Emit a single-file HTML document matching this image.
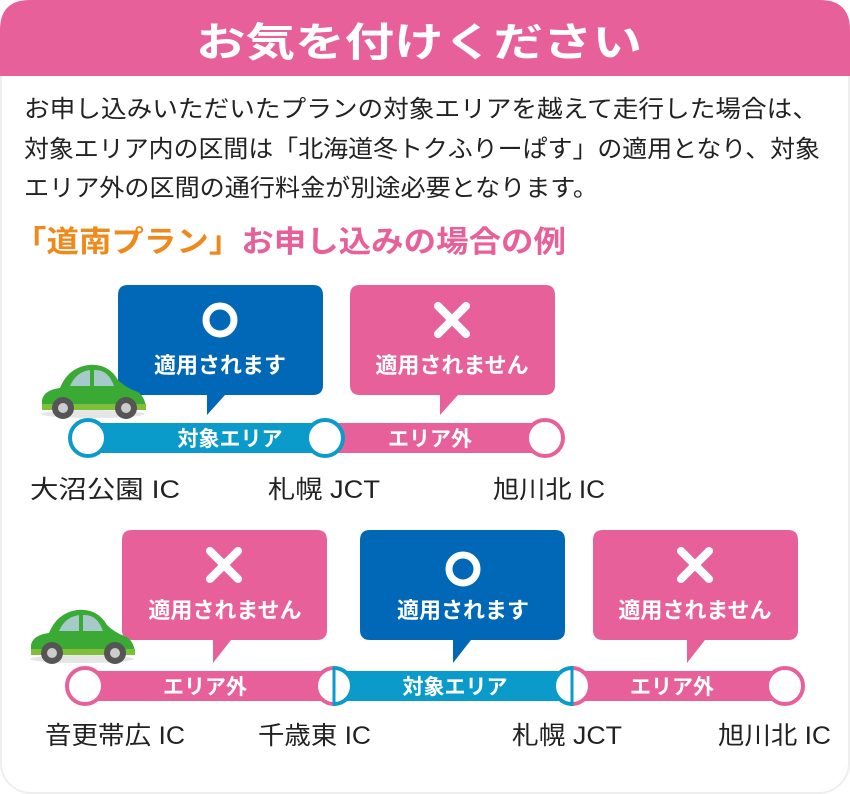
<!DOCTYPE html>
<html><head><meta charset="utf-8"><style>
body{margin:0;background:#fff;}
svg{display:block;}
text{font-family:"Liberation Sans","Noto Sans CJK JP",sans-serif;}
</style></head><body>
<svg width="850" height="794" viewBox="0 0 850 794" xmlns="http://www.w3.org/2000/svg">
<defs>
<g id="car">
  <ellipse cx="55" cy="54" rx="52" ry="4" fill="#ccc" opacity="0.5"/>
  <path d="M4 50 L4 40 Q6 30 22 28 Q30 8 50 5 Q70 3 80 20 Q88 28 100 32 Q108 38 108 50 Z" fill="#3aaa35"/>
  <path d="M32 26 Q38 12 52 10 L52 26 Z" fill="#a6c9c9"/>
  <path d="M56 10 Q70 9 76 26 L56 26 Z" fill="#a6c9c9"/>
  <path d="M4 44 L108 44 L108 50 L4 50 Z" fill="#7fbf3a"/>
  <circle cx="25" cy="48" r="11" fill="#555"/><circle cx="25" cy="48" r="5" fill="#ccc"/>
  <circle cx="88" cy="48" r="11" fill="#555"/><circle cx="88" cy="48" r="5" fill="#ccc"/>
</g>
</defs>
<rect x="1" y="1" width="848" height="792" rx="30" fill="#fff" stroke="#eee" stroke-width="2"/>
<path d="M0 30 Q0 0 30 0 L820 0 Q850 0 850 30 L850 76 L0 76 Z" fill="#e8609a"/>
<text x="196" y="56" font-size="40" font-weight="bold" fill="#fff" textLength="446" lengthAdjust="spacingAndGlyphs">お気を付けください</text>
<g font-size="24" fill="#222">
<text x="24" y="117" textLength="794" lengthAdjust="spacingAndGlyphs">お申し込みいただいたプランの対象エリアを越えて走行した場合は、</text>
<text x="24" y="157" textLength="796" lengthAdjust="spacingAndGlyphs">対象エリア内の区間は「北海道冬トクふりーぱす」の適用となり、対象</text>
<text x="24" y="196" textLength="574" lengthAdjust="spacingAndGlyphs">エリア外の区間の通行料金が別途必要となります。</text>
</g>
<text x="14" y="252" font-size="30" font-weight="bold" textLength="552" lengthAdjust="spacingAndGlyphs"><tspan fill="#ee8a1c">「道南プラン」</tspan><tspan fill="#e8609a">お申し込みの場合の例</tspan></text>

<!-- Row 1 -->
<path d="M128 285 H313 Q323 285 323 295 V385 Q323 395 313 395 H225 L207 415 L207 395 H128 Q118 395 118 385 V295 Q118 285 128 285Z" fill="#0068b7"/>
<circle cx="220" cy="320" r="14" fill="none" stroke="#fff" stroke-width="7"/>
<text x="220" y="373" text-anchor="middle" font-size="22" font-weight="bold" fill="#fff">適用されます</text>
<path d="M360 285 H545 Q555 285 555 295 V385 Q555 395 545 395 H458 L440 415 L440 395 H360 Q350 395 350 385 V295 Q350 285 360 285Z" fill="#e8609a"/>
<path d="M438 306 L466 334 M466 306 L438 334" stroke="#fff" stroke-width="8" stroke-linecap="round"/>
<text x="452" y="373" text-anchor="middle" font-size="22" font-weight="bold" fill="#fff">適用されません</text>
<rect x="88" y="423" width="237" height="30" fill="#0b9bcb"/>
<rect x="325" y="423" width="220" height="30" fill="#e8609a"/>
<circle cx="88" cy="438" r="18" fill="#fff" stroke="#0b9bcb" stroke-width="4"/>
<circle cx="325" cy="438" r="18" fill="#fff" stroke="#0b9bcb" stroke-width="4"/>
<circle cx="545" cy="438" r="18" fill="#fff" stroke="#e8609a" stroke-width="4"/>
<text x="230" y="446" text-anchor="middle" font-size="21" font-weight="bold" fill="#fff">対象エリア</text>
<text x="430" y="446" text-anchor="middle" font-size="21" font-weight="bold" fill="#fff">エリア外</text>
<use href="#car" x="38" y="360"/>
<g font-size="25" fill="#222">
<text x="30" y="498" textLength="150" lengthAdjust="spacingAndGlyphs">大沼公園 IC</text>
<text x="268" y="498" textLength="112" lengthAdjust="spacingAndGlyphs">札幌 JCT</text>
<text x="493" y="498" textLength="112" lengthAdjust="spacingAndGlyphs">旭川北 IC</text>
</g>

<!-- Row 2 -->
<path d="M132 530 H317 Q327 530 327 540 V630 Q327 640 317 640 H231 L213 663 L213 640 H132 Q122 640 122 630 V540 Q122 530 132 530Z" fill="#e8609a"/>
<path d="M210 551 L238 579 M238 551 L210 579" stroke="#fff" stroke-width="8" stroke-linecap="round"/>
<text x="225" y="618" text-anchor="middle" font-size="22" font-weight="bold" fill="#fff">適用されません</text>
<path d="M370 530 H555 Q565 530 565 540 V630 Q565 640 555 640 H471 L453 663 L453 640 H370 Q360 640 360 630 V540 Q360 530 370 530Z" fill="#0068b7"/>
<circle cx="463" cy="569" r="14" fill="none" stroke="#fff" stroke-width="7"/>
<text x="463" y="618" text-anchor="middle" font-size="22" font-weight="bold" fill="#fff">適用されます</text>
<path d="M603 530 H788 Q798 530 798 540 V630 Q798 640 788 640 H705 L687 663 L687 640 H603 Q593 640 593 630 V540 Q593 530 603 530Z" fill="#e8609a"/>
<path d="M681 551 L709 579 M709 551 L681 579" stroke="#fff" stroke-width="8" stroke-linecap="round"/>
<text x="695" y="618" text-anchor="middle" font-size="22" font-weight="bold" fill="#fff">適用されません</text>
<rect x="85" y="671" width="249" height="30" fill="#e8609a"/>
<rect x="334" y="671" width="238" height="30" fill="#0b9bcb"/>
<rect x="572" y="671" width="213" height="30" fill="#e8609a"/>
<circle cx="85" cy="686" r="18" fill="#fff" stroke="#e8609a" stroke-width="4"/>
<circle cx="785" cy="686" r="18" fill="#fff" stroke="#e8609a" stroke-width="4"/>
<circle cx="334" cy="686" r="18" fill="#fff"/>
<path d="M334 668 A18 18 0 0 0 334 704" fill="none" stroke="#e8609a" stroke-width="4"/>
<path d="M334 668 A18 18 0 0 1 334 704" fill="none" stroke="#0b9bcb" stroke-width="4"/>
<line x1="334" y1="666" x2="334" y2="706" stroke="#0b9bcb" stroke-width="3"/>
<circle cx="572" cy="686" r="18" fill="#fff"/>
<path d="M572 668 A18 18 0 0 0 572 704" fill="none" stroke="#0b9bcb" stroke-width="4"/>
<path d="M572 668 A18 18 0 0 1 572 704" fill="none" stroke="#e8609a" stroke-width="4"/>
<line x1="572" y1="666" x2="572" y2="706" stroke="#0b9bcb" stroke-width="3"/>
<text x="205" y="694" text-anchor="middle" font-size="21" font-weight="bold" fill="#fff">エリア外</text>
<text x="455" y="694" text-anchor="middle" font-size="21" font-weight="bold" fill="#fff">対象エリア</text>
<text x="672" y="694" text-anchor="middle" font-size="21" font-weight="bold" fill="#fff">エリア外</text>
<use href="#car" x="23" y="605" transform="translate(4,0)"/>
<g font-size="25" fill="#222">
<text x="45" y="744" textLength="140" lengthAdjust="spacingAndGlyphs">音更帯広 IC</text>
<text x="258" y="744" textLength="113" lengthAdjust="spacingAndGlyphs">千歳東 IC</text>
<text x="512" y="744" textLength="110" lengthAdjust="spacingAndGlyphs">札幌 JCT</text>
<text x="718" y="744" textLength="113" lengthAdjust="spacingAndGlyphs">旭川北 IC</text>
</g>
</svg>
</body></html>
